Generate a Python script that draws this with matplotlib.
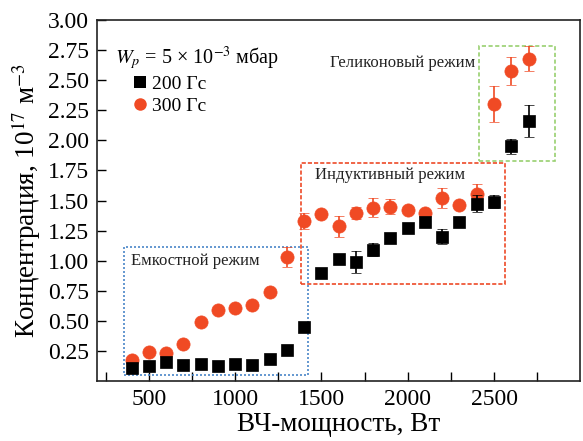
import matplotlib

matplotlib.use("Agg")
import matplotlib.pyplot as plt
from matplotlib.lines import Line2D
from matplotlib.patches import Rectangle
from matplotlib.ticker import FixedLocator

plt.rcParams["font.family"] = ["Liberation Serif", "DejaVu Serif"]
plt.rcParams["mathtext.fontset"] = "stix"

RED = "#f04a24"
BLACK = "#000000"

power = [400, 500, 600, 700, 800, 900, 1000, 1100, 1200, 1300, 1400, 1500,
         1600, 1700, 1800, 1900, 2000, 2100, 2200, 2300, 2400, 2500, 2600, 2700]

# 200 Гс
n200 = [0.11, 0.125, 0.16, 0.135, 0.14, 0.125, 0.14, 0.13, 0.18, 0.26, 0.45, 0.90,
        1.015, 0.99, 1.09, 1.19, 1.275, 1.32, 1.20, 1.325, 1.475, 1.49, 1.95, 2.16]
err200 = [0.02, 0.02, 0.02, 0.02, 0.02, 0.02, 0.02, 0.02, 0.02, 0.0, 0.0, 0.02,
          0.02, 0.09, 0.055, 0.02, 0.02, 0.02, 0.06, 0.02, 0.07, 0.055, 0.065, 0.13]

# 300 Гс
n300 = [0.175, 0.24, 0.23, 0.31, 0.49, 0.59, 0.61, 0.63, 0.74, 1.03, 1.33, 1.385,
        1.285, 1.40, 1.44, 1.45, 1.425, 1.40, 1.52, 1.46, 1.555, 2.30, 2.575, 2.68]
err300 = [0.0, 0.0, 0.02, 0.0, 0.0, 0.0, 0.0, 0.02, 0.02, 0.08, 0.07, 0.02,
          0.09, 0.05, 0.08, 0.06, 0.03, 0.03, 0.085, 0.03, 0.08, 0.15, 0.115, 0.10]

# regime boxes: (x0, x1, y0, y1)
box_cap = (356, 1420, 0.05, 1.11)
box_ind = (1379, 2563, 0.81, 1.81)
box_hel = (2414, 2856, 1.83, 2.78)

fig = plt.figure(figsize=(5.83, 4.41), dpi=100)
ax = fig.add_axes([0.1664, 0.136, 0.8290, 0.8186])

ax.errorbar(power, n300, yerr=err300, fmt="o", color=RED, ms=9.5, mec=RED, mew=0.5,
            ecolor=RED, elinewidth=1.2, capsize=3.5, capthick=1.2, zorder=3)
ax.errorbar(power, n200, yerr=err200, fmt="s", color=BLACK, ms=8.5, mec=BLACK, mew=0.5,
            ecolor=BLACK, elinewidth=1.2, capsize=3.5, capthick=1.2, zorder=4)

for (x0, x1, y0, y1), col, ls in [
    (box_cap, "#4a86c8", (0, (1.2, 1.2))),
    (box_ind, "#ee4a28", (0, (2.5, 1.2))),
    (box_hel, "#98d070", (0, (2.5, 1.5))),
]:
    ax.add_patch(Rectangle((x0, y0), x1 - x0, y1 - y0, fill=False,
                           edgecolor=col, linestyle=ls, linewidth=1.2, zorder=2))

ax.text(395, 1.0, "Емкостной режим", fontsize=12, color="#222222", va="center")
ax.text(1465, 1.71, "Индуктивный режим", fontsize=12, color="#222222", va="center")
ax.text(2390, 2.64, "Геликоновый режим", fontsize=12, color="#222222",
        va="center", ha="right")

handles = [
    Line2D([], [], marker="s", color=BLACK, ls="none", ms=8, mew=0),
    Line2D([], [], marker="o", color=RED, ls="none", ms=9, mew=0),
]
leg = ax.legend(handles, ["200 Гс", "300 Гс"], title=r"$W_p$ = 5 × 10$^{-3}$ мбар",
                loc="upper left", bbox_to_anchor=(0.01, 0.972), frameon=False,
                fontsize=14, title_fontsize=14.5, handletextpad=-0.6,
                labelspacing=0.2, handlelength=2.5, borderpad=0.2)
leg._legend_box.align = "left"

ax.set_xlim(200, 3000)
ax.set_ylim(0, 3.0)
ax.set_xticks([500, 1000, 1500, 2000, 2500])
ax.xaxis.set_minor_locator(FixedLocator([250, 750, 1250, 1750, 2250, 2750]))
ax.set_yticks([0.25, 0.5, 0.75, 1.0, 1.25, 1.5, 1.75, 2.0, 2.25, 2.5, 2.75, 3.0])
ax.set_yticklabels([f"{v:.2f}" for v in ax.get_yticks()])
ax.tick_params(which="both", direction="in", length=6.5, width=1.0,
               labelsize=17, pad=6, top=False, right=False)
for s in ax.spines.values():
    s.set_linewidth(1.2)
    s.set_color("#222222")

ax.set_xlabel("ВЧ-мощность, Вт", fontsize=19.5, labelpad=1)
ax.set_ylabel(r"Концентрация, 10$^{17}$ м$^{-3}$", fontsize=19.5, labelpad=3)

fig.savefig("out.png", dpi=100)
